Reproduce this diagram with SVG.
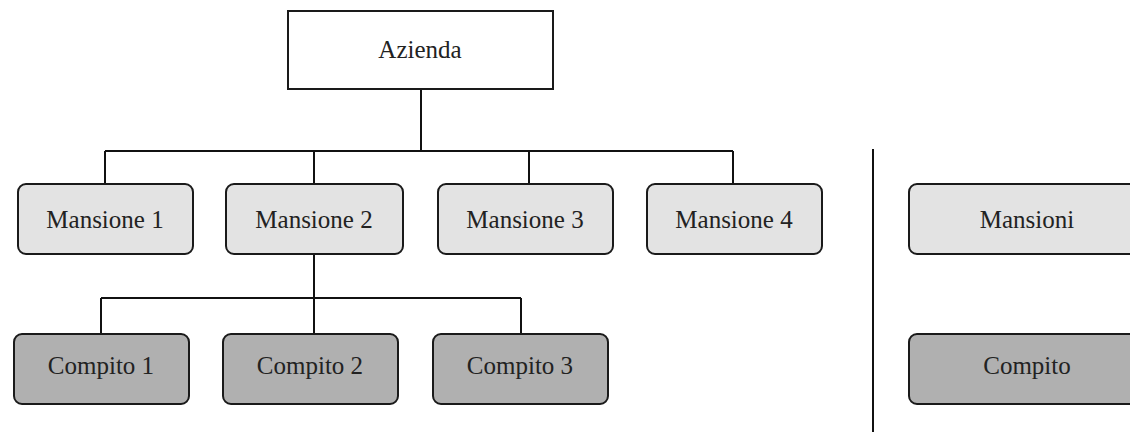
<svg xmlns="http://www.w3.org/2000/svg" width="1130" height="432" viewBox="0 0 1130 432">
<style>
.box{stroke:#1a1a1a;stroke-width:2}
.top{fill:#ffffff}
.man{fill:#e3e3e3}
.com{fill:#b0b0b0}
.lbl{font-family:"Liberation Serif","Times New Roman",serif;font-size:25px;fill:#222;text-anchor:middle}
.conn{stroke:#111;stroke-width:2;fill:none}
</style>
<rect width="1130" height="432" fill="#fff"/>
<g id="connectors">
<path class="conn" d="M421 89V151M105 151H733M105 151V184M314 151V184M529 151V184M733 151V184"/>
<path class="conn" d="M314 254V298M101 298H521M101 298V333M314 298V333M521 298V333"/>
<path class="conn" d="M873 149V432"/>
</g>
<g id="azienda"><rect class="box top" x="288" y="11" width="265" height="78"/><text class="lbl" x="420" y="58">Azienda</text></g>
<g id="mansione1"><rect class="box man" x="18" y="184" width="175" height="70" rx="8"/><text class="lbl" x="105" y="228">Mansione 1</text></g>
<g id="mansione2"><rect class="box man" x="226" y="184" width="177" height="70" rx="8"/><text class="lbl" x="314" y="228">Mansione 2</text></g>
<g id="mansione3"><rect class="box man" x="438" y="184" width="175" height="70" rx="8"/><text class="lbl" x="525" y="228">Mansione 3</text></g>
<g id="mansione4"><rect class="box man" x="647" y="184" width="175" height="70" rx="8"/><text class="lbl" x="734" y="228">Mansione 4</text></g>
<g id="compito1"><rect class="box com" x="14" y="334" width="175" height="70" rx="8"/><text class="lbl" x="101" y="374">Compito 1</text></g>
<g id="compito2"><rect class="box com" x="223" y="334" width="175" height="70" rx="8"/><text class="lbl" x="310" y="374">Compito 2</text></g>
<g id="compito3"><rect class="box com" x="433" y="334" width="175" height="70" rx="8"/><text class="lbl" x="520" y="374">Compito 3</text></g>
<g id="legend-mansioni"><rect class="box man" x="909" y="184" width="236" height="70" rx="8"/><text class="lbl" x="1027" y="228">Mansioni</text></g>
<g id="legend-compito"><rect class="box com" x="909" y="334" width="236" height="70" rx="8"/><text class="lbl" x="1027" y="374">Compito</text></g>
</svg>
